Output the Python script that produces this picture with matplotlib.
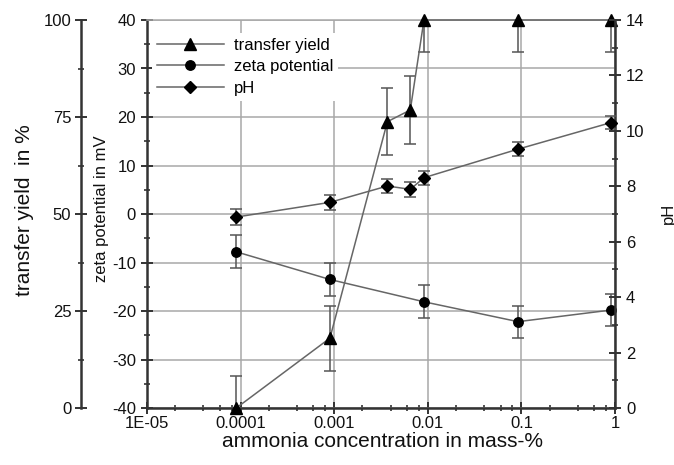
import matplotlib
matplotlib.use("Agg")
import matplotlib.pyplot as plt
from matplotlib.lines import Line2D
from matplotlib.ticker import FixedLocator, MultipleLocator, LogLocator, NullFormatter
import numpy as np

plt.rcParams['font.family'] = ['Liberation Sans', 'DejaVu Sans']
plt.rcParams['axes.unicode_minus'] = False

# ---- data ----
ty_x = [9e-5, 9e-4, 3.7e-3, 6.5e-3, 9.1e-3, 0.092, 0.91]
ty_y = [0, 18, 73.8, 76.8, 100, 100, 100]
ty_err = [8.2, 8.4, 8.6, 8.7, 8.3, 8.3, 8.3]

zeta_x = [9e-5, 9e-4, 9.1e-3, 0.092, 0.91]
zeta_y = [-7.8, -13.5, -18.1, -22.2, -19.8]
zeta_err = [3.4, 3.4, 3.4, 3.3, 3.3]

ph_x = [9e-5, 9e-4, 3.7e-3, 6.5e-3, 9.1e-3, 0.092, 0.91]
ph_y = [6.89, 7.42, 8.01, 7.89, 8.31, 9.34, 10.3]
ph_err = [0.28, 0.28, 0.27, 0.27, 0.25, 0.25, 0.25]

x_ticks = [1e-5, 1e-4, 1e-3, 1e-2, 1e-1, 1]
x_labels = ['1E-05', '0.0001', '0.001', '0.01', '0.1', '1']
labels = ['transfer yield', 'zeta potential', 'pH']

W, H = 674, 465
fig = plt.figure(figsize=(W / 100, H / 100), dpi=100)
ax = fig.add_axes([147 / W, 57 / H, 468 / W, 388 / H])
ax_ty = ax.twinx()
ax_ph = ax.twinx()

spine_c = '#333333'
line_c = '#666666'
err_c = '#555555'
grid_c = '#a8a8a8'

# main (zeta) axis
ax.set_xscale('log')
ax.set_xlim(1e-5, 1)
ax.set_ylim(-40, 40)
ax.xaxis.set_major_locator(FixedLocator(x_ticks))
ax.set_xticklabels(x_labels)
ax.xaxis.set_minor_locator(LogLocator(base=10, subs=[2, 4, 6, 8]))
ax.xaxis.set_minor_formatter(NullFormatter())
ax.yaxis.set_major_locator(MultipleLocator(10))
ax.yaxis.set_minor_locator(MultipleLocator(5))
ax.grid(True, which='major', color=grid_c, lw=1.1)
ax.set_axisbelow(True)
for s in ['left', 'bottom']:
    ax.spines[s].set_color(spine_c)
    ax.spines[s].set_linewidth(1.8)
ax.spines['top'].set_color(grid_c)
ax.spines['top'].set_linewidth(1.1)
ax.spines['right'].set_visible(False)
ax.tick_params(axis='both', which='major', direction='inout', length=8, width=1.4,
               color=spine_c, labelsize=12, labelcolor='#111111')
ax.tick_params(axis='both', which='minor', direction='inout', length=5, width=1.2, color=spine_c)
ax.tick_params(axis='x', which='major', pad=2)
ax.tick_params(axis='y', which='major', pad=4)

# transfer yield axis (outer left)
ax_ty.set_ylim(0, 100)
ax_ty.yaxis.set_ticks_position('left')
ax_ty.spines['left'].set_position(('outward', 47.5))
ax_ty.spines['left'].set_visible(True)
ax_ty.spines['left'].set_color(spine_c)
ax_ty.spines['left'].set_linewidth(1.8)
for s in ['right', 'top', 'bottom']:
    ax_ty.spines[s].set_visible(False)
ax_ty.yaxis.set_major_locator(MultipleLocator(25))
ax_ty.yaxis.set_minor_locator(MultipleLocator(12.5))
ax_ty.tick_params(axis='y', which='major', direction='inout', length=8, width=1.4,
                  color=spine_c, labelsize=12, labelcolor='#111111', pad=3)
ax_ty.tick_params(axis='y', which='minor', direction='inout', length=5, width=1.2, color=spine_c)

# pH axis (right)
ax_ph.set_ylim(0, 14)
for s in ['left', 'top', 'bottom']:
    ax_ph.spines[s].set_visible(False)
ax_ph.spines['right'].set_color(spine_c)
ax_ph.spines['right'].set_linewidth(1.8)
ax_ph.yaxis.set_major_locator(MultipleLocator(2))
ax_ph.yaxis.set_minor_locator(MultipleLocator(1))
ax_ph.tick_params(axis='y', which='major', direction='inout', length=8, width=1.4,
                  color=spine_c, labelsize=12, labelcolor='#111111', pad=4)
ax_ph.tick_params(axis='y', which='minor', direction='inout', length=5, width=1.2, color=spine_c)

def series(a, x, y, e, marker, ms):
    a.errorbar(x, y, yerr=e, fmt='none', ecolor=err_c, elinewidth=1.1, capsize=4,
               capthick=1.1, zorder=3)
    a.plot(x, y, color=line_c, lw=1.1, marker=marker, ms=ms, mfc='black', mec='black',
           clip_on=False, zorder=4)

series(ax_ty, ty_x, ty_y, ty_err, '^', 8.5)
series(ax, zeta_x, zeta_y, zeta_err, 'o', 6.8)
series(ax_ph, ph_x, ph_y, ph_err, 'D', 6.5)

handles = [
    Line2D([], [], color=line_c, lw=1.1, marker='^', ms=8.5, mfc='black', mec='black'),
    Line2D([], [], color=line_c, lw=1.1, marker='o', ms=6.8, mfc='black', mec='black'),
    Line2D([], [], color=line_c, lw=1.1, marker='D', ms=6.5, mfc='black', mec='black'),
]
leg = ax_ph.legend(handles, labels, loc='upper left', bbox_to_anchor=(152 / W, 1 - 33 / H),
                   bbox_transform=fig.transFigure, frameon=True, facecolor='white',
                   edgecolor='none', framealpha=1, fancybox=False, handlelength=4.0,
                   handletextpad=0.6, labelspacing=0.38, borderpad=0.3, fontsize=12,
                   borderaxespad=0)
leg.set_zorder(10)

# axis titles
fig.text(25 / W, 1 - 210 / H, 'transfer yield  in %', rotation=90, ha='center', va='center',
         fontsize=15, color='#111111')
fig.text(101 / W, 1 - 209 / H, 'zeta potential in mV', rotation=90, ha='center', va='center',
         fontsize=12, color='#111111')
fig.text(668 / W, 1 - 213 / H, 'pH', rotation=90, ha='center', va='center',
         fontsize=12, color='#111111')
fig.text(383 / W, 1 - 441 / H, 'ammonia concentration in mass-%', ha='center', va='center',
         fontsize=15, color='#111111')

fig.savefig('out.png', dpi=100)
